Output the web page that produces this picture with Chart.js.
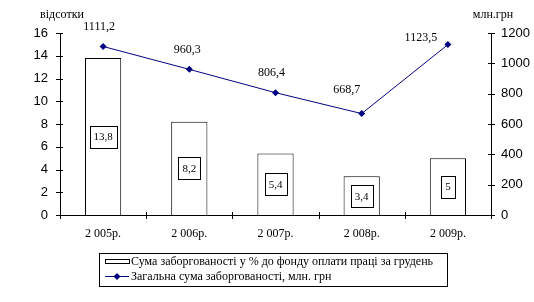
<!DOCTYPE html>
<html lang="uk">
<head>
<meta charset="UTF-8">
<title>Заборгованість з оплати праці</title>
<script src="https://cdn.jsdelivr.net/npm/chart.js"></script>
<style>
    body { margin: 0; background: #fff; }
    #wrap { width: 534px; height: 302px; position: relative; }
</style>
</head>
<body>
<div id="wrap"><canvas id="chart"></canvas></div>
<script>
    // дані з рисунка
    const years = ['2 005р.', '2 006р.', '2 007р.', '2 008р.', '2 009р.'];
    const debtPercent = [13.8, 8.2, 5.4, 3.4, 5];
    const debtTotal = [1111.2, 960.3, 806.4, 668.7, 1123.5];
    const leftTicks = [0, 2, 4, 6, 8, 10, 12, 14, 16];
    const rightTicks = [0, 200, 400, 600, 800, 1000, 1200];
    const barLabel = 'Сума заборгованості у % до фонду оплати праці за грудень';
    const lineLabel = 'Загальна сума заборгованості, млн. грн';

    // зсув підписів над лінією (як у Excel-оригіналі)
    const lineLabelShift = [[-4, -20], [-2, -20], [-4, -20], [-15, -24], [-27, -7]];

    const SERIF = '"Liberation Serif", "Times New Roman", serif';
    const SANS = '"Liberation Sans", Arial, sans-serif';
    const NAVY = '#000080';

    const fmt = v => String(v).replace('.', ',');

    const drawExtras = {
        id: 'drawExtras',
        afterDatasetsDraw(chart) {
            const ctx = chart.ctx;
            const area = chart.chartArea;
            const x = chart.scales.x, y = chart.scales.y, y1 = chart.scales.y1;
            ctx.save();
            ctx.strokeStyle = '#000';
            ctx.lineWidth = 1;

            // осі з рисками
            ctx.beginPath();
            ctx.moveTo(area.left + 0.5, area.top);
            ctx.lineTo(area.left + 0.5, area.bottom);
            ctx.moveTo(area.right + 0.5, area.top);
            ctx.lineTo(area.right + 0.5, area.bottom);
            ctx.moveTo(area.left, area.bottom + 0.5);
            ctx.lineTo(area.right, area.bottom + 0.5);
            leftTicks.forEach(v => {
                const py = Math.round(y.getPixelForValue(v)) + 0.5;
                ctx.moveTo(area.left - 4, py); ctx.lineTo(area.left + 3, py);
            });
            rightTicks.forEach(v => {
                const py = Math.round(y1.getPixelForValue(v)) + 0.5;
                ctx.moveTo(area.right - 3, py); ctx.lineTo(area.right + 4, py);
            });
            const step = (x.getPixelForValue(1) - x.getPixelForValue(0));
            for (let i = 0; i <= years.length; i++) {
                const px = Math.round(x.getPixelForValue(0) - step / 2 + i * step) + 0.5;
                ctx.moveTo(px, area.bottom - 3); ctx.lineTo(px, area.bottom + 4);
            }
            ctx.stroke();

            const lineMeta = chart.getDatasetMeta(0);
            const barMeta = chart.getDatasetMeta(1);

            // підписи стовпців у рамках
            ctx.font = '11px ' + SERIF;
            ctx.textAlign = 'center';
            ctx.textBaseline = 'middle';
            barMeta.data.forEach((bar, i) => {
                const t = fmt(debtPercent[i]);
                const w = Math.round(ctx.measureText(t).width) + 8;
                const h = 22;
                const cy = (bar.y + bar.base) / 2;
                const bx = Math.round(bar.x - w / 2) + 0.5, by = Math.round(cy - h / 2) + 0.5;
                ctx.fillStyle = '#fff';
                ctx.fillRect(bx, by, w, h);
                ctx.strokeRect(bx, by, w, h);
                ctx.fillStyle = '#000';
                ctx.fillText(t, bar.x, cy + 1);
            });

            // підписи точок лінії
            ctx.font = '12px ' + SERIF;
            lineMeta.data.forEach((pt, i) => {
                const s = lineLabelShift[i];
                ctx.fillText(fmt(debtTotal[i]), pt.x + s[0], pt.y + s[1]);
            });

            // назви осей
            ctx.fillText('відсотки', 62, 15);
            ctx.fillText('млн.грн', 493, 15);

            // легенда
            const lx = 99.5, ly = 253.5, lw = 348, lh = 33;
            ctx.strokeRect(lx, ly, lw, lh);
            ctx.strokeRect(105.5, 259.5, 24, 4);
            ctx.strokeStyle = NAVY;
            ctx.beginPath();
            ctx.moveTo(105, 276.5); ctx.lineTo(129, 276.5);
            ctx.stroke();
            ctx.fillStyle = NAVY;
            ctx.beginPath();
            ctx.moveTo(117, 273); ctx.lineTo(120.5, 276.5); ctx.lineTo(117, 280); ctx.lineTo(113.5, 276.5);
            ctx.closePath(); ctx.fill();
            ctx.fillStyle = '#000';
            ctx.textAlign = 'left';
            ctx.font = '12px ' + SERIF;
            ctx.fillText(barLabel, 131, 262);
            ctx.fillText(lineLabel, 131, 277);
            ctx.restore();
        }
    };

    new Chart(document.getElementById('chart'), {
        data: {
            labels: years,
            datasets: [
                {
                    type: 'line', label: lineLabel, data: debtTotal, yAxisID: 'y1', order: 0,
                    borderColor: NAVY, borderWidth: 1, backgroundColor: NAVY,
                    pointStyle: 'rectRot', pointRadius: 3.5, pointBorderWidth: 0, tension: 0
                },
                {
                    type: 'bar', label: barLabel, data: debtPercent, yAxisID: 'y', order: 1,
                    backgroundColor: '#fff', borderColor: '#000', borderWidth: 1,
                    categoryPercentage: 1, barPercentage: 0.42
                }
            ]
        },
        options: {
            responsive: true,
            maintainAspectRatio: false,
            animation: false,
            layout: { padding: { top: 33, left: 0, right: 0, bottom: 0 } },
            plugins: { legend: { display: false }, tooltip: { enabled: false } },
            scales: {
                x: {
                    grid: { display: false, drawTicks: false },
                    border: { display: false },
                    ticks: { padding: 12, color: '#000', font: { family: SERIF, size: 12 } },
                    afterFit: s => { s.height = 87; }
                },
                y: {
                    position: 'left', min: 0, max: 16,
                    grid: { display: false, drawTicks: false },
                    border: { display: false },
                    ticks: { stepSize: 2, padding: 12, color: '#000', font: { family: SANS, size: 13 },
                             callback: v => String(v) },
                    afterFit: s => { s.width = 60; }
                },
                y1: {
                    position: 'right', min: 0, max: 1200,
                    grid: { display: false, drawTicks: false },
                    border: { display: false },
                    ticks: { stepSize: 200, padding: 10, color: '#000', font: { family: SANS, size: 13 },
                             callback: v => String(v) },
                    afterFit: s => { s.width = 43; }
                }
            }
        },
        plugins: [drawExtras]
    });
</script>
</body>
</html>
